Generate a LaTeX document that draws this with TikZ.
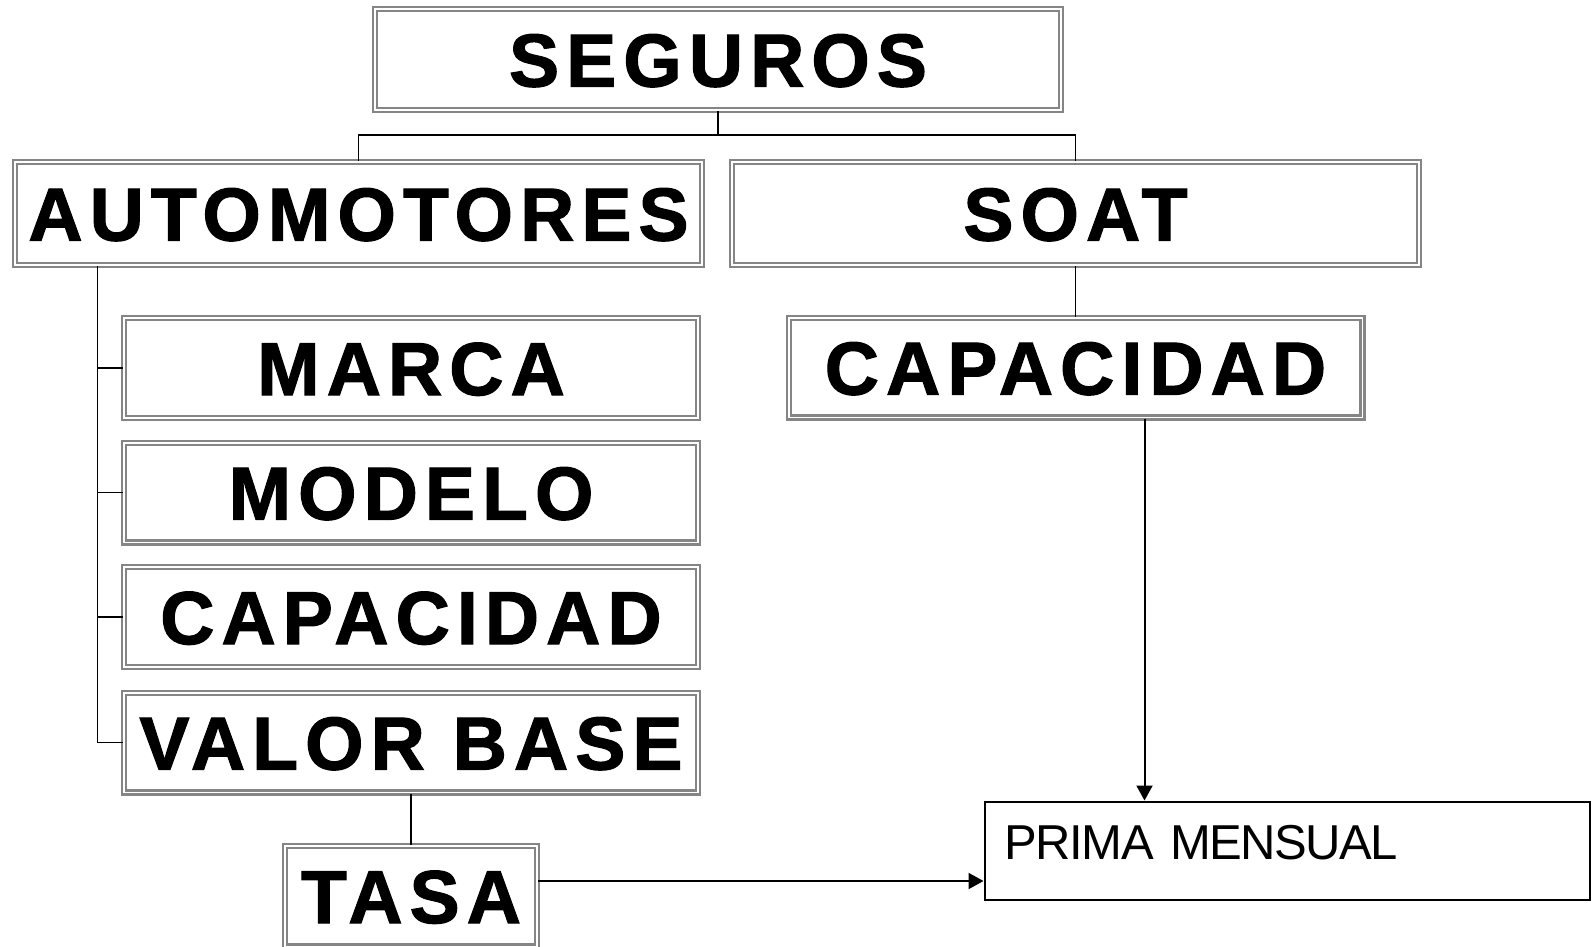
\documentclass[tikz,border=0pt]{standalone}
\usepackage{fontspec}
\setmainfont{Liberation Sans}
\usepackage{tikz}
\usetikzlibrary{arrows.meta}
\tikzset{caja/.style = {draw=mgray, double=white, line width=2.2pt,
                        double distance=1.8pt, inner sep=0pt,
                        font=\fontsize{75}{80}\selectfont\bfseries\addfontfeature{LetterSpace=9.5, FakeBold=1.6},
                        text height=54pt, text depth=0pt,
                        minimum width=573.8pt, minimum height=99.8pt}}
\tikzset{linea/.style = {line width=1.3pt}}
\tikzset{flecha/.style = {-{Triangle[length=15pt, width=16pt]}, line width=2pt}}
\definecolor{mgray}{rgb}{0.52, 0.52, 0.52}

\begin{document}
\begin{tikzpicture}[x=1pt, y=-1pt]
    \useasboundingbox (0, 0) rectangle (1592, 946);

    \node [caja, minimum width=685.8pt, minimum height=100.8pt] (seguros) at (718, 59.5) {SEGUROS};
    \node [caja, minimum width=686.8pt, minimum height=102.8pt] (automotores) at (358.5, 213.5) {AUTOMOTORES};
    \node [caja, minimum width=686.8pt, minimum height=102.8pt] (soat) at (1075.5, 213.5) {SOAT};

    \node [caja] (marca) at (411, 368) {MARCA};
    \node [caja] (modelo) at (411, 492.5) {MODELO};
    \node [caja] (capauto) at (411, 617) {CAPACIDAD};
    \node [caja] (valor) at (411, 742.5) {VALOR BASE};
    \node [caja, minimum width=251.8pt, minimum height=100.8pt] (tasa) at (411, 896) {TASA};

    \node [caja] (capsoat) at (1075.5, 367.5) {CAPACIDAD};
    \node [draw, line width=2pt, text width=565pt, align=left, inner xsep=20pt, inner ysep=0pt,
           text height=58pt, text depth=40pt,
           font=\fontsize{49}{52}\selectfont\addfontfeature{LetterSpace=-3}] (prima) at (1287, 850.5) {PRIMA MENSUAL};

    \draw [linea] (seguros.south) -- ++(0, 24) coordinate (rama) -| (automotores.north)
                  (rama) -| (soat.north);

    \coordinate (tronco) at (97.7, 0);
    \draw [linea] (automotores.south -| tronco) -- (tronco |- valor.west);
    \foreach \n in {marca, modelo, capauto, valor}
        \draw [linea] (tronco |- \n.west) -- (\n.west);

    \draw [linea] (valor.south) -- (tasa.north);
    \draw [linea] (soat.south) -- (capsoat.north);

    \draw [flecha] ([xshift=69pt]capsoat.south) -- ([xshift=69pt]capsoat.south |- prima.north);
    \draw [flecha] ([yshift=15pt]tasa.east) -- ([yshift=15pt]tasa.east -| prima.west);
  \end{tikzpicture}
\end{document}
